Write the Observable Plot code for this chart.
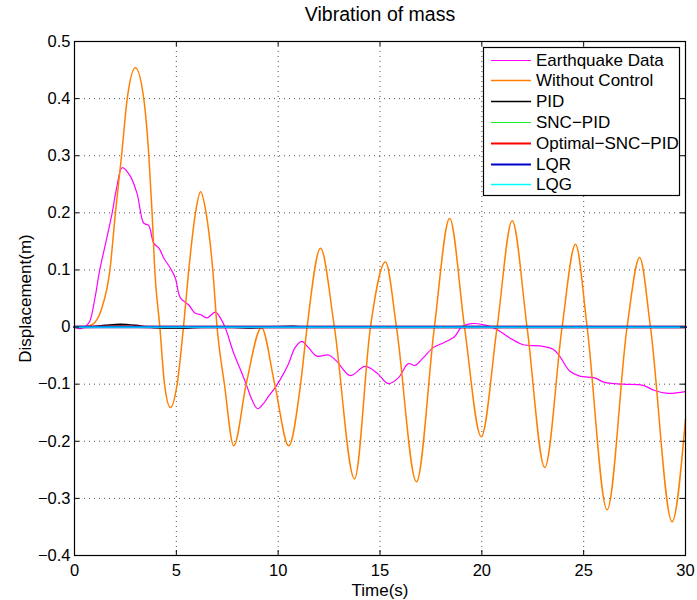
<!DOCTYPE html>
<html>
<head>
<meta charset="utf-8">
<script src="https://cdn.jsdelivr.net/npm/d3@7"></script>
<script src="https://cdn.jsdelivr.net/npm/@observablehq/plot@0.6"></script>
<style>
  html, body { margin: 0; padding: 0; background: #fff; }
  #chart { width: 697px; height: 600px; }
</style>
</head>
<body>
<div id="chart"></div>
<script>
// ---------- data ----------
const titleText = "Vibration of mass";
const xLabel = "Time(s)";
const yLabel = "Displacement(m)";
const xTicks = [0, 5, 10, 15, 20, 25, 30];
const yTicks = [-0.4, -0.3, -0.2, -0.1, 0, 0.1, 0.2, 0.3, 0.4, 0.5];

const seriesNames = ["Earthquake Data", "Without Control", "PID", "SNC\u2212PID", "Optimal\u2212SNC\u2212PID", "LQR", "LQG"];
const seriesColors = ["#ff00ff", "#ff8000", "#000000", "#22ee22", "#ff0000", "#0000cc", "#00ffff"];
const seriesWidths = [1.2, 1.5, 1.5, 1.2, 2.5, 2.5, 1.3];

// Earthquake Data
const quakeT = [0, 0.3, 0.6, 0.75, 1.0, 1.24, 1.55, 1.85, 2.05, 2.34, 2.71, 3.07, 3.4, 3.64, 3.89, 4.17, 4.38, 4.71, 4.95, 5.2, 5.6, 5.93, 6.18, 6.5, 6.91, 7.16, 7.4, 7.81, 8.14, 8.46, 8.71, 8.99, 9.28, 9.53, 9.85, 10.1, 10.5, 10.83, 11.16, 11.49, 11.9, 12.47, 12.88, 13.53, 14.26, 14.84, 15.41, 15.9, 16.39, 16.72, 17.12, 17.61, 18.1, 18.68, 19.0, 19.5, 20.23, 20.72, 21.37, 22.03, 22.84, 23.5, 23.82, 24.31, 24.8, 25.54, 26.03, 26.93, 27.91, 28.48, 29.13, 30];
const quakeY = [0, -0.003, 0.003, 0.01, 0.05, 0.1, 0.15, 0.2, 0.24, 0.279, 0.266, 0.234, 0.182, 0.178, 0.147, 0.137, 0.121, 0.103, 0.086, 0.051, 0.039, 0.024, 0.022, 0.016, 0.026, 0.016, -0.001, -0.045, -0.074, -0.103, -0.127, -0.143, -0.134, -0.121, -0.106, -0.092, -0.065, -0.036, -0.025, -0.036, -0.051, -0.049, -0.060, -0.085, -0.069, -0.080, -0.099, -0.089, -0.064, -0.067, -0.054, -0.036, -0.028, -0.016, 0, 0.006, 0.003, -0.004, -0.019, -0.031, -0.033, -0.039, -0.051, -0.077, -0.086, -0.089, -0.097, -0.100, -0.102, -0.111, -0.116, -0.113];

// Without Control
const freeT = [0, 0.5, 0.9, 1.31, 1.74, 2.01, 2.31, 2.59, 2.99, 3.40, 3.65, 3.81, 3.94, 4.19, 4.42, 4.71, 5.04, 5.35, 5.61, 5.94, 6.19, 6.46, 6.79, 7.0, 7.36, 7.82, 8.43, 9.18, 9.83, 10.52, 11.1, 11.42, 12.08, 12.76, 13.75, 14.53, 15.27, 15.81, 16.79, 17.67, 18.42, 19.15, 19.97, 20.75, 21.49, 22.22, 23.09, 23.94, 24.6, 25.17, 26.15, 27.13, 27.75, 28.28, 29.34, 30];
const freeY = [0, 0, 0.005, 0.03, 0.1, 0.2, 0.3, 0.4, 0.454, 0.4, 0.3, 0.2, 0.1, 0, -0.1, -0.141, -0.1, 0, 0.1, 0.2, 0.237, 0.2, 0.1, 0, -0.1, -0.208, -0.1, -0.001, -0.1, -0.208, -0.1, 0, 0.138, 0, -0.266, 0, 0.114, 0, -0.271, 0, 0.19, 0, -0.192, 0, 0.186, 0, -0.246, 0, 0.145, 0, -0.320, 0, 0.122, 0, -0.341, -0.161];

// PID
const pidT = [0, 0.8, 1.5, 2.25, 3.0, 3.6, 4.4, 5.4, 6.5, 7.5, 8.5, 9.5, 10.7, 11.5, 30];
const pidY = [0, 0.0005, 0.003, 0.005, 0.003, 0, -0.002, -0.002, 0, 0, -0.0015, 0, 0.0015, 0, 0];
// SNC-PID
const sncT = [0, 1.2, 2.2, 3.4, 4.5, 6.5, 30];
const sncY = [0, 0.001, 0.002, 0, -0.001, 0, 0];
// Optimal-SNC-PID
const optT = [0, 2.2, 4.0, 30];
const optY = [0, 0.001, 0, 0];
// LQR
const lqrT = [0, 30];
const lqrY = [0, 0];
// LQG
const lqgT = [0, 30];
const lqgY = [0, 0];

// ---------- build ----------
const zipSeries = (T, Y) => T.map((t, i) => ({t, v: Y[i]}));
const allSeries = [
  {data: zipSeries(quakeT, quakeY), curve: "catmull-rom"},
  {data: zipSeries(freeT, freeY), curve: "monotone-x"},
  {data: zipSeries(pidT, pidY), curve: "monotone-x"},
  {data: zipSeries(sncT, sncY), curve: "monotone-x"},
  {data: zipSeries(optT, optY), curve: "monotone-x"},
  {data: zipSeries(lqrT, lqrY), curve: "linear"},
  {data: zipSeries(lqgT, lqgY), curve: "linear"}
];

const fmt = d => d === 0 ? "0" : (d < 0 ? "\u2212" : "") + Math.abs(d).toFixed(1);
const W = 697, H = 600, mL = 74, mR = 12, mT = 41, mB = 45;
const fw = W - mL - mR, fh = H - mT - mB;
const FS = 16.5, FL = 17, FT = 19.5;
const FONT = "'Liberation Sans', Arial, Helvetica, sans-serif";

const chart = Plot.plot({
  width: W, height: H,
  marginLeft: mL, marginRight: mR, marginTop: mT, marginBottom: mB,
  style: {fontFamily: FONT, fontSize: FS + "px", color: "black", background: "white", overflow: "visible"},
  x: {domain: [0, 30], axis: null},
  y: {domain: [-0.4, 0.5], axis: null},
  marks: [
    Plot.gridX(xTicks.slice(1, -1), {stroke: "#333", strokeOpacity: 0.85, strokeDasharray: "1,4", strokeWidth: 1}),
    Plot.gridY(yTicks.slice(1, -1), {stroke: "#333", strokeOpacity: 0.85, strokeDasharray: "1,4", strokeWidth: 1}),
    ...allSeries.map((s, i) => Plot.line(s.data, {x: "t", y: "v", stroke: seriesColors[i], strokeWidth: seriesWidths[i], curve: s.curve})),
    Plot.tickX(xTicks, {x: d => d, insetTop: fh - 5, stroke: "black"}),
    Plot.tickX(xTicks, {x: d => d, insetBottom: fh - 5, stroke: "black"}),
    Plot.tickY(yTicks, {y: d => d, insetRight: fw - 5, stroke: "black"}),
    Plot.tickY(yTicks, {y: d => d, insetLeft: fw - 5, stroke: "black"}),
    Plot.frame({stroke: "black", strokeWidth: 1.2}),
    // tick labels
    Plot.text(xTicks, {x: d => d, text: d => String(d), frameAnchor: "bottom", lineAnchor: "middle", dy: 15, fontSize: FS, fill: "black"}),
    Plot.text(yTicks, {y: d => d, text: fmt, frameAnchor: "left", dx: -4, textAnchor: "end", lineAnchor: "middle", fontSize: FS, fill: "black"}),
    // axis labels
    Plot.text([xLabel], {text: d => d, frameAnchor: "bottom", lineAnchor: "middle", dy: 35, fontSize: FL, fill: "black"}),
    Plot.text([yLabel], {text: d => d, frameAnchor: "left", textAnchor: "middle", lineAnchor: "middle", dx: -49, rotate: -90, fontSize: FL, fill: "black"}),
    // title
    Plot.text([titleText], {text: d => d, frameAnchor: "top", lineAnchor: "middle", dy: -27, fontSize: FT, fill: "black"})
  ]
});
document.getElementById("chart").appendChild(chart);

const svg = d3.select(chart);

// ---------- legend box (top right, inside the axes) ----------
const lg = svg.append("g").attr("font-family", FONT).attr("font-size", FL).attr("text-anchor", "start");
const lx = 483.5, ly = 47.5, lw = 196, lh = 148, row = 20.8, firstRow = 59.5;
lg.append("rect").attr("x", lx).attr("y", ly).attr("width", lw).attr("height", lh)
  .attr("fill", "white").attr("stroke", "black").attr("stroke-width", 1.2);
seriesNames.forEach((name, i) => {
  const cy = Math.round(firstRow + i * row) + 0.5;
  lg.append("line").attr("x1", 491).attr("x2", 531).attr("y1", cy).attr("y2", cy)
    .attr("stroke", seriesColors[i]).attr("stroke-width", Math.min(seriesWidths[i], 2));
  lg.append("text").attr("x", 536).attr("y", cy).attr("dy", "0.35em")
    .attr("text-anchor", "start").style("font-size", FL + "px").attr("fill", "black").text(name);
});
</script>
</body>
</html>
